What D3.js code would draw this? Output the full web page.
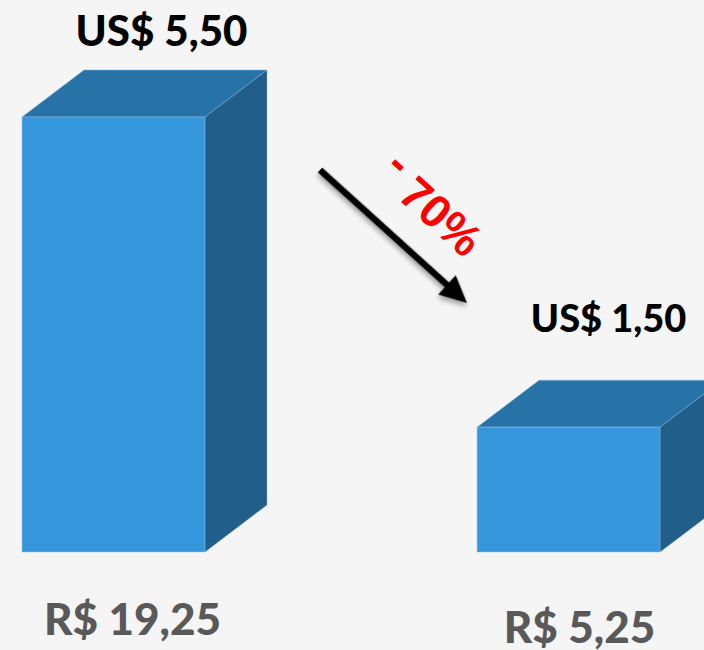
<!DOCTYPE html>
<html>
<head>
<meta charset="utf-8">
<script src="https://cdnjs.cloudflare.com/ajax/libs/d3/7.8.5/d3.min.js"></script>
<style>
  html, body { margin: 0; padding: 0; background: #f5f5f5; overflow: hidden; }
</style>
</head>
<body>
<div id="vis"></div>
<script>
// data
const periods = ['antes', 'depois']
const usdValues = [5.50, 1.50]
const usdLabels = ['US$ 5,50', 'US$ 1,50']
const brlLabels = ['R$ 19,25', 'R$ 5,25']
const changeSign = '-'
const changeValue = ' 70%'

const W = 704, H = 650
const depthX = 62, depthY = 47
const topLabelGap = [24, 48]
const topLabelShift = [48, 40]
const bottomLabelY = [635, 643]
const bottomLabelShift = [19, 11]

const svg = d3.select('#vis').append('svg')
    .attr('width', W)
    .attr('height', H)

svg.append('rect').attr('width', W).attr('height', H).attr('fill', '#f5f5f5')

const defs = svg.append('defs')
const shadow = defs.append('filter').attr('id', 'shadow')
    .attr('x', '-20%').attr('y', '-20%').attr('width', '140%').attr('height', '140%')
shadow.append('feDropShadow')
    .attr('dx', 2).attr('dy', 3).attr('stdDeviation', 2.5)
    .attr('flood-color', '#000').attr('flood-opacity', 0.35)

const x = d3.scaleBand()
    .domain(periods)
    .range([22, 660])
    .paddingInner(0.598)
    .paddingOuter(0)

const y = d3.scaleLinear()
    .domain([-0.11, 5.5])
    .range([552, 117])

const bw = x.bandwidth()
const base = y.range()[0]

const g = svg.selectAll('.bar')
    .data(periods)
    .enter()
    .append('g')
    .attr('class', 'bar')

// side face
g.append('path')
    .attr('fill', '#215f8a')
    .attr('stroke', '#6f9cc0').attr('stroke-opacity', 0.35).attr('stroke-width', 1)
    .attr('d', (d, i) => {
        const x1 = x(d) + bw, yt = y(usdValues[i])
        return `M${x1},${yt} L${x1 + depthX},${yt - depthY} L${x1 + depthX},${base - depthY} L${x1},${base} Z`
    })

// top face
g.append('path')
    .attr('fill', '#2773a8')
    .attr('stroke', '#8ab4d6').attr('stroke-opacity', 0.45).attr('stroke-width', 1)
    .attr('d', (d, i) => {
        const x0 = x(d), yt = y(usdValues[i])
        return `M${x0},${yt} L${x0 + depthX},${yt - depthY} L${x0 + bw + depthX},${yt - depthY} L${x0 + bw},${yt} Z`
    })

// front face
g.append('rect')
    .attr('x', d => x(d))
    .attr('y', (d, i) => y(usdValues[i]))
    .attr('width', bw)
    .attr('height', (d, i) => base - y(usdValues[i]))
    .attr('fill', '#3596db')
    .attr('stroke', '#8cc3ea').attr('stroke-opacity', 0.5).attr('stroke-width', 1)

// US$ labels above the bars
g.append('text')
    .attr('x', (d, i) => x(d) + bw / 2 + topLabelShift[i])
    .attr('y', (d, i) => y(usdValues[i]) - depthY - topLabelGap[i])
    .attr('text-anchor', 'middle')
    .attr('font-family', 'Lato, "Open Sans", sans-serif')
    .attr('font-weight', 900)
    .attr('font-size', (d, i) => i === 0 ? 42 : 38)
    .attr('fill', '#000')
    .text((d, i) => usdLabels[i])

// R$ labels below the bars
g.append('text')
    .attr('x', (d, i) => x(d) + bw / 2 + bottomLabelShift[i])
    .attr('y', (d, i) => bottomLabelY[i])
    .attr('text-anchor', 'middle')
    .attr('font-family', 'Lato, "Open Sans", sans-serif')
    .attr('font-weight', 900)
    .attr('font-size', 44)
    .attr('fill', '#595959')
    .text((d, i) => brlLabels[i])

// arrow showing the drop
const a0 = [320, 170], a1 = [467, 303]
const ang = Math.atan2(a1[1] - a0[1], a1[0] - a0[0])
const len = Math.hypot(a1[0] - a0[0], a1[1] - a0[1])
const arrow = svg.append('g')
    .attr('transform', `translate(${a0[0]},${a0[1]}) rotate(${ang * 180 / Math.PI})`)
    .attr('filter', 'url(#shadow)')
arrow.append('line')
    .attr('x1', 0).attr('y1', 0).attr('x2', len - 22).attr('y2', 0)
    .attr('stroke', '#000').attr('stroke-width', 6.5)
arrow.append('path')
    .attr('d', `M${len},0 L${len - 27},-13 L${len - 27},13 Z`)
    .attr('fill', '#000')

const pct = svg.append('text')
    .attr('transform', `translate(428,210) rotate(${ang * 180 / Math.PI})`)
    .attr('text-anchor', 'middle')
    .attr('dominant-baseline', 'middle')
    .attr('font-family', '"Liberation Sans", Arial, sans-serif')
    .attr('font-weight', 'bold')
    .attr('font-size', 46)
    .attr('fill', '#ff0000')
pct.append('tspan').attr('dy', -13).text(changeSign)
pct.append('tspan').attr('dy', 13).text(changeValue)
</script>
</body>
</html>
